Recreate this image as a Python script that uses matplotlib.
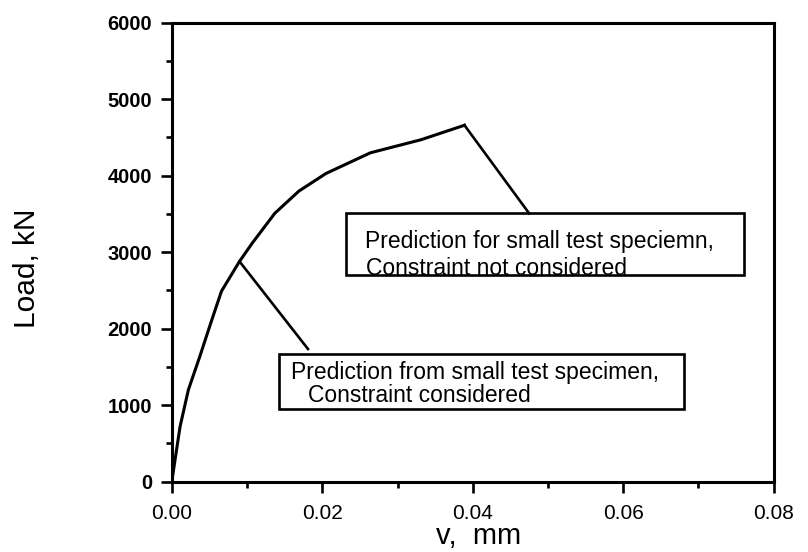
import matplotlib
matplotlib.use("Agg")
import matplotlib.pyplot as plt
import matplotlib.patches as patches
from matplotlib.ticker import MultipleLocator

# load-displacement curve
v = [0, 0.0005, 0.0011, 0.0022, 0.0037, 0.0052, 0.0066, 0.0090, 0.0107,
     0.0137, 0.0169, 0.0205, 0.0264, 0.0331, 0.0389]
load = [0, 330, 720, 1200, 1630, 2080, 2490, 2880, 3120,
        3510, 3800, 4030, 4300, 4470, 4660]

xticks = [0.0, 0.02, 0.04, 0.06, 0.08]
xticklabels = ["0.00", "0.02", "0.04", "0.06", "0.08"]
yticks = [0, 1000, 2000, 3000, 4000, 5000, 6000]

# annotation boxes: (x0, x1, y0, y1) and leader (from, to)
box1 = (0.0232, 0.0761, 2700, 3507)
box1_text = ["Prediction for small test speciemn,", "Constraint not considered"]
lead1 = ((0.0389, 4660), (0.0475, 3507))
box2 = (0.0143, 0.0681, 952, 1672)
box2_text = ["Prediction from small test specimen,", "Constraint considered"]
lead2 = ((0.0090, 2880), (0.0181, 1735))

plt.rcParams["font.family"] = ["Liberation Sans", "DejaVu Sans"]

fig = plt.figure(figsize=(8.08, 5.52), dpi=100)
ax = fig.add_axes([0.2126, 0.1273, 0.745, 0.8315])

ax.plot(v, load, color="black", lw=2.2, solid_joinstyle="miter")

for (p0, p1) in (lead1, lead2):
    ax.plot([p0[0], p1[0]], [p0[1], p1[1]], color="black", lw=1.9)

for b in (box1, box2):
    ax.add_patch(patches.Rectangle((b[0], b[2]), b[1] - b[0], b[3] - b[2],
                                   fill=False, edgecolor="black", lw=1.9))

tsize = 16.5
ax.text(0.0257, 3053, box1_text[0], fontsize=tsize, va="baseline", ha="left")
ax.text(0.0258, 2706, box1_text[1], fontsize=tsize, va="baseline", ha="left")
ax.text(0.0158, 1345, box2_text[0], fontsize=tsize, va="baseline", ha="left")
ax.text(0.0181, 1040, box2_text[1], fontsize=tsize, va="baseline", ha="left")

ax.set_xlim(0, 0.08)
ax.set_ylim(0, 6000)
ax.set_xticks(xticks)
ax.set_xticklabels(xticklabels)
ax.set_yticks(yticks)
ax.xaxis.set_minor_locator(MultipleLocator(0.01))
ax.yaxis.set_minor_locator(MultipleLocator(500))
ax.tick_params(which="major", direction="out", length=8, width=1.9, top=False, right=False)
ax.tick_params(which="minor", direction="out", length=4.5, width=1.9, top=False, right=False)
ax.tick_params(axis="x", labelsize=15, pad=8)
ax.tick_params(axis="y", labelsize=14.5, pad=6)
for lab in ax.get_yticklabels():
    lab.set_fontweight("bold")

for s in ax.spines.values():
    s.set_linewidth(2.2)

ax.set_xlabel("v,  mm", fontsize=21, va="center")
ax.xaxis.set_label_coords(0.509, -0.118)
ax.set_ylabel("Load, kN", fontsize=21.5, va="center")
ax.yaxis.set_label_coords(-0.2405, 0.4657)

fig.savefig("out.png", dpi=100, facecolor="white")
